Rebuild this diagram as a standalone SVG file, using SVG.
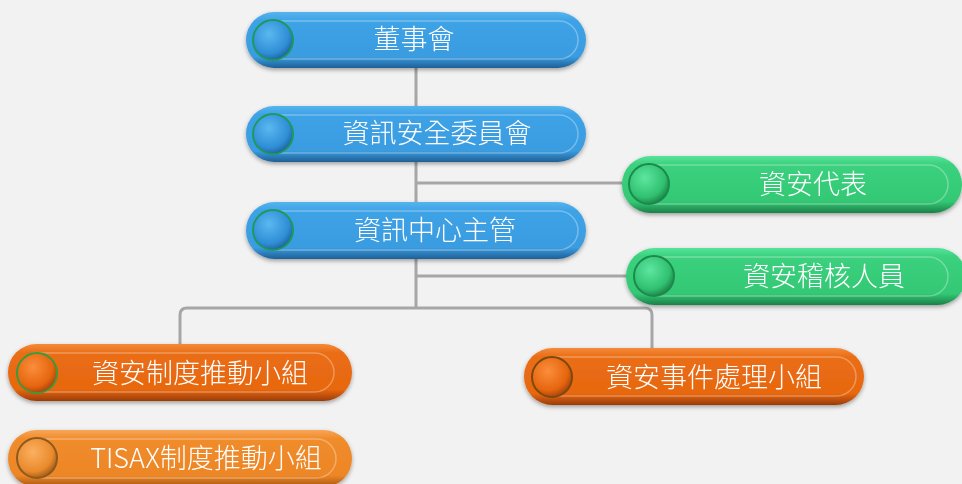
<svg xmlns="http://www.w3.org/2000/svg" width="962" height="484" viewBox="0 0 962 484">
<defs>
<linearGradient id="gB" x1="0" y1="0" x2="0" y2="1"><stop offset="0" stop-color="#56b4ee"/><stop offset="0.15" stop-color="#3ea2e6"/><stop offset="0.8" stop-color="#3a9ce0"/><stop offset="1" stop-color="#1f5f96"/></linearGradient>
<linearGradient id="gG" x1="0" y1="0" x2="0" y2="1"><stop offset="0" stop-color="#55e39a"/><stop offset="0.15" stop-color="#3bd17e"/><stop offset="0.8" stop-color="#33c874"/><stop offset="1" stop-color="#1b8048"/></linearGradient>
<linearGradient id="gO" x1="0" y1="0" x2="0" y2="1"><stop offset="0" stop-color="#f58a3a"/><stop offset="0.15" stop-color="#ea6e16"/><stop offset="0.8" stop-color="#e8670f"/><stop offset="1" stop-color="#9a3c05"/></linearGradient>
<linearGradient id="gO2" x1="0" y1="0" x2="0" y2="1"><stop offset="0" stop-color="#f7a658"/><stop offset="0.15" stop-color="#f08c2c"/><stop offset="0.8" stop-color="#ed8626"/><stop offset="1" stop-color="#a6560f"/></linearGradient>
<radialGradient id="cB" cx="0.4" cy="0.35" r="0.7"><stop offset="0" stop-color="#5ab8f0"/><stop offset="0.7" stop-color="#2f8ed6"/><stop offset="1" stop-color="#1d5c92"/></radialGradient>
<radialGradient id="cG" cx="0.4" cy="0.35" r="0.7"><stop offset="0" stop-color="#5de6a0"/><stop offset="0.7" stop-color="#30c070"/><stop offset="1" stop-color="#1a7a44"/></radialGradient>
<radialGradient id="cO" cx="0.4" cy="0.35" r="0.7"><stop offset="0" stop-color="#fb8e3c"/><stop offset="0.7" stop-color="#e6650e"/><stop offset="1" stop-color="#9e3e06"/></radialGradient>
<radialGradient id="cO2" cx="0.4" cy="0.35" r="0.7"><stop offset="0" stop-color="#fbb060"/><stop offset="0.7" stop-color="#ea8a2c"/><stop offset="1" stop-color="#9a5512"/></radialGradient>
<filter id="sh" x="-10%" y="-30%" width="120%" height="170%"><feDropShadow dx="0" dy="2" stdDeviation="2" flood-color="#000" flood-opacity="0.35"/></filter>
</defs>
<style>
.inner{fill:none;stroke:rgba(255,255,255,0.3);stroke-width:1.5}
.t{font-family:"Noto Sans CJK TC","Noto Sans",sans-serif;font-weight:300;font-size:27px;fill:#ffffff;text-anchor:middle;dominant-baseline:central}
.ring{stroke-width:2}
.ln{fill:none;stroke:#a6a6a6;stroke-width:3}
</style>
<rect width="962" height="484" fill="#f2f2f2"/>
<g id="connectors">
<path class="ln" d="M416 68 V307"/>
<path class="ln" d="M415 183 H627"/>
<path class="ln" d="M417 276 H630"/>
<path class="ln" d="M180 344 V315 Q180 308 187 308 H645 Q652 308 652 315 V348"/>
</g>
<g id="n1" filter="url(#sh)">
<rect x="246" y="12" width="340" height="56" rx="28" fill="url(#gB)"/>
<rect x="256" y="21" width="322" height="38" rx="19" class="inner"/>
<circle cx="273" cy="40" r="20" fill="url(#cB)" stroke="#1e9a5c" class="ring"/>
<text x="414" y="37" class="t">董事會</text>
</g>
<g id="n2" filter="url(#sh)">
<rect x="246" y="106" width="340" height="56" rx="28" fill="url(#gB)"/>
<rect x="256" y="115" width="322" height="38" rx="19" class="inner"/>
<circle cx="273" cy="134" r="20" fill="url(#cB)" stroke="#1e9a5c" class="ring"/>
<text x="437" y="131" class="t">資訊安全委員會</text>
</g>
<g id="n3" filter="url(#sh)">
<rect x="246" y="202" width="340" height="57" rx="28.5" fill="url(#gB)"/>
<rect x="256" y="211" width="322" height="39" rx="19.5" class="inner"/>
<circle cx="273" cy="230" r="20" fill="url(#cB)" stroke="#1e9a5c" class="ring"/>
<text x="435" y="228" class="t">資訊中心主管</text>
</g>
<g id="n4" filter="url(#sh)">
<rect x="622" y="156" width="340" height="57" rx="28.5" fill="url(#gG)"/>
<rect x="632" y="165" width="316" height="39" rx="19.5" class="inner"/>
<circle cx="649" cy="184" r="20" fill="url(#cG)" stroke="#1d8a4c" class="ring"/>
<text x="813" y="182" class="t">資安代表</text>
</g>
<g id="n5" filter="url(#sh)">
<rect x="626" y="248" width="340" height="57" rx="28.5" fill="url(#gG)"/>
<rect x="636" y="257" width="312" height="39" rx="19.5" class="inner"/>
<circle cx="654" cy="276" r="20" fill="url(#cG)" stroke="#1d8a4c" class="ring"/>
<text x="824" y="274" class="t">資安稽核人員</text>
</g>
<g id="n6" filter="url(#sh)">
<rect x="8" y="344" width="344" height="57" rx="28.5" fill="url(#gO)"/>
<rect x="18" y="353" width="316" height="39" rx="19.5" class="inner"/>
<circle cx="37" cy="373" r="20" fill="url(#cO)" stroke="#3a9a3a" class="ring"/>
<text x="200" y="371" class="t">資安制度推動小組</text>
</g>
<g id="n7" filter="url(#sh)">
<rect x="524" y="348" width="340" height="57" rx="28.5" fill="url(#gO)"/>
<rect x="534" y="357" width="322" height="39" rx="19.5" class="inner"/>
<circle cx="552" cy="377" r="20" fill="url(#cO)" stroke="#7a4a10" class="ring"/>
<text x="714" y="375" class="t">資安事件處理小組</text>
</g>
<g id="n8" filter="url(#sh)">
<rect x="8" y="430" width="344" height="57" rx="28.5" fill="url(#gO2)"/>
<rect x="18" y="439" width="318" height="39" rx="19.5" class="inner"/>
<circle cx="37" cy="458" r="20" fill="url(#cO2)" stroke="#8a5a20" class="ring"/>
<text x="206" y="456" class="t">TISAX制度推動小組</text>
</g>
</svg>
